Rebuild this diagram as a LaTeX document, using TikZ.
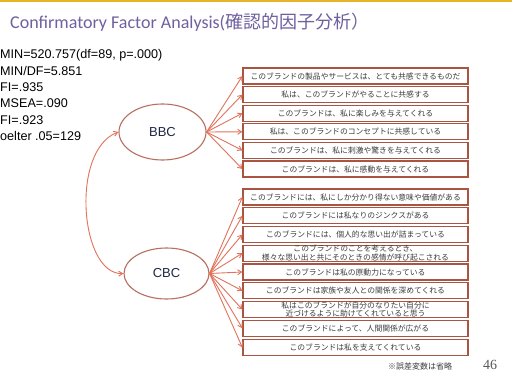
\documentclass[tikz,border=0pt]{standalone}
\usepackage{fontspec}
\setmainfont{Liberation Sans}
\newfontfamily\cjk{Noto Sans CJK JP}
\newfontfamily\carlito{Carlito}
\newfontfamily\serifnum{Liberation Serif}
\usetikzlibrary{shapes.geometric,arrows.meta}
\definecolor{boxborder}{RGB}{170,85,65}
\definecolor{arrowc}{RGB}{225,115,90}
\definecolor{ellc}{RGB}{185,110,95}
\definecolor{titlec}{RGB}{112,96,160}
\definecolor{goldc}{RGB}{230,180,40}
\definecolor{boxtext}{RGB}{60,60,60}
\definecolor{latc}{RGB}{30,40,70}
\tikzset{
  ibox/.style={draw=boxborder, line width=1.2pt, fill=white, minimum width=225pt,
    minimum height=16pt, inner sep=0pt, align=center, text=boxtext,
    font=\cjk\fontsize{7.8}{8.6}\selectfont},
  latent/.style={ellipse, draw=ellc, line width=1.1pt, inner sep=0pt, text=latc,
    font=\fontsize{13}{15}\selectfont},
  arr/.style={draw=arrowc, line width=0.9pt, -{Straight Barb[length=4pt,width=5pt]}},
  stat/.style={anchor=base west, inner sep=0pt, font=\fontsize{12.6}{15}\selectfont, text=black}
}
\begin{document}
\begin{tikzpicture}[x=1pt,y=-1pt]
\useasboundingbox (0,0) rectangle (514,374);
\fill[white] (0,0) rectangle (514,374);
\draw[goldc, line width=2pt] (0,1) -- (512,1);
\node[anchor=base west, inner sep=0pt, text=titlec] (title) at (10,29)
  {\fontsize{18}{20}\selectfont\carlito Confirmatory Factor Analysis(\cjk 確認的因子分析）};
% statistics
\node[stat] (s1) at (0,59) {MIN=520.757(df=89, p=.000)};
\node[stat] (s2) at (0,75.3) {MIN/DF=5.851};
\node[stat] (s3) at (0,91.6) {FI=.935};
\node[stat] (s4) at (0,107.9) {MSEA=.090};
\node[stat] (s5) at (0,124.2) {FI=.923};
\node[stat] (s6) at (0,140.5) {oelter .05=129};
% latent variables
\node[latent, minimum width=87pt, minimum height=56pt] (BBC) at (162.5,132) {BBC};
\node[latent, minimum width=85pt, minimum height=51pt] (CBC) at (166.5,273.5) {CBC};
% BBC items
\node[ibox] (b1) at (355.5,76) {このブランドの製品やサービスは、とても共感できるものだ};
\node[ibox] (b2) at (355.5,94.6) {私は、このブランドがやることに共感する};
\node[ibox] (b3) at (355.5,113.2) {このブランドは、私に楽しみを与えてくれる};
\node[ibox] (b4) at (355.5,131.8) {私は、このブランドのコンセプトに共感している};
\node[ibox] (b5) at (355.5,150.4) {このブランドは、私に刺激や驚きを与えてくれる};
\node[ibox] (b6) at (355.5,169) {このブランドは、私に感動を与えてくれる};
% CBC items
\node[ibox] (c1) at (355.5,197) {このブランドには、私にしか分かり得ない意味や価値がある};
\node[ibox] (c2) at (355.5,215.75) {このブランドには私なりのジンクスがある};
\node[ibox] (c3) at (355.5,234.5) {このブランドには、個人的な思い出が詰まっている};
\node[ibox] (c4) at (355.5,253.25) {このブランドのことを考えるとき、\\様々な思い出と共にそのときの感情が呼び起こされる};
\node[ibox] (c5) at (355.5,272) {このブランドは私の原動力になっている};
\node[ibox] (c6) at (355.5,290.75) {このブランドは家族や友人との関係を深めてくれる};
\node[ibox] (c7) at (355.5,309.5) {私はこのブランドが自分のなりたい自分に\\近づけるように助けてくれていると思う};
\node[ibox] (c8) at (355.5,328.25) {このブランドによって、人間関係が広がる};
\node[ibox] (c9) at (355.5,347.5) {このブランドは私を支えてくれている};
% arrows
\foreach \b in {b1,b2,b3,b4,b5,b6} \draw[arr] (BBC.east) -- (\b.west);
\foreach \c in {c1,c2,c3,c4,c5,c6,c7,c8,c9} \draw[arr] (CBC.east) -- (\c.west);
\draw[arr, {Straight Barb[length=4pt,width=5pt]}-{Straight Barb[length=4pt,width=5pt]}]
  (BBC.west) .. controls (70,150) and (80,275) .. (CBC.west);
% footer
\node[anchor=base west, inner sep=0pt, text=boxtext, font=\cjk\fontsize{8}{9}\selectfont] (note) at (388,369) {※誤差変数は省略};
\node[anchor=base west, inner sep=0pt, text=black!65, font=\serifnum\fontsize{14}{16}\selectfont] (page) at (483,369) {46};
\end{tikzpicture}
\end{document}
